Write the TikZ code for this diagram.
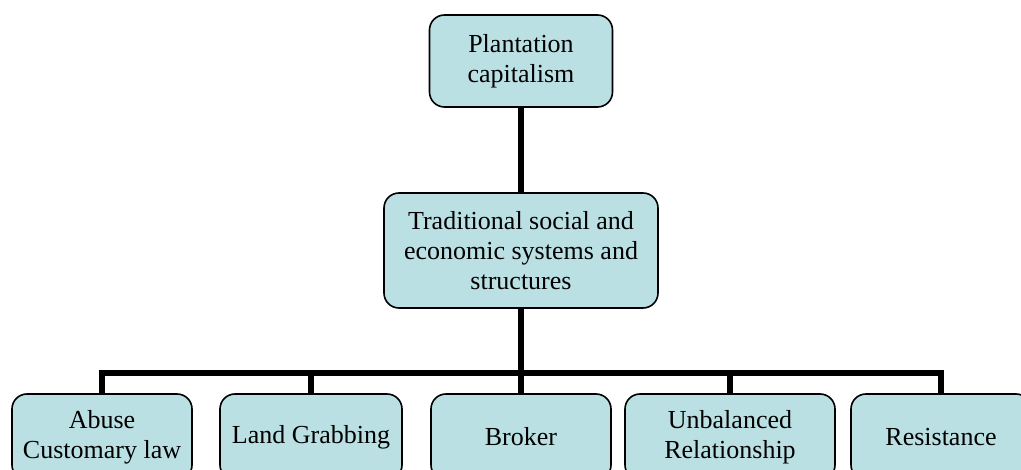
\documentclass[tikz,border=0pt]{standalone}
\usepackage{fontspec}
\setmainfont{Liberation Serif}
\definecolor{boxfill}{RGB}{186,224,227}
\begin{document}
\begin{tikzpicture}[x=1pt,y=-1pt,
      box/.style={draw,line width=1.6pt,rounded corners=15pt,fill=boxfill,
        align=center,inner sep=0pt,minimum height=86pt,
        font=\fontsize{26}{30}\selectfont},
      conn/.style={line width=6pt}]
      \useasboundingbox (0,0) rectangle (1021,470);
      \clip (0,0) rectangle (1021,470);
      \path (521,61) node[box,minimum width=183pt,minimum height=92pt] (plant) {Plantation\\capitalism};
      \path (521,250.5) node[box,minimum width=274pt,minimum height=115pt] (trad) {Traditional social and\\economic systems and\\structures};
      \coordinate (bus) at (521,373);
      \path (102,437) node[box,minimum width=180pt] (abuse) {Abuse\\Customary law};
      \path (311,437) node[box,minimum width=182pt] (land) {Land Grabbing};
      \path (521,437) node[box,minimum width=180pt] (broker) {Broker};
      \path (730,437) node[box,minimum width=210pt] (unbal) {Unbalanced\\Relationship};
      \path (941,437) node[box,minimum width=180pt] (resist) {Resistance};
      \draw[conn] (plant.south) -- (trad.north);
      \draw[conn] (trad.south) -- (bus);
      \foreach \b in {abuse,land,broker,unbal,resist}
        \draw[conn] (\b.north) |- (bus);
     \end{tikzpicture}
\end{document}
